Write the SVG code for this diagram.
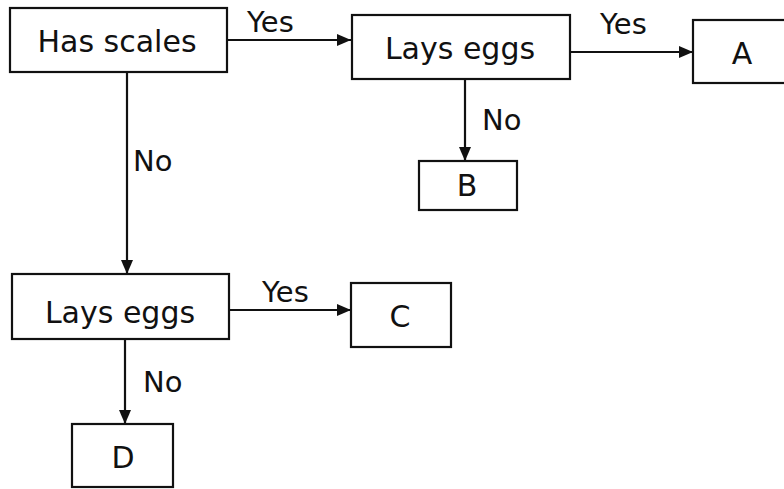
<svg xmlns="http://www.w3.org/2000/svg" width="784" height="489" viewBox="0 0 784 489">
  <style>
    .box { fill: #fff; stroke: #111; stroke-width: 2.2; }
    .lbl { font-family: "DejaVu Sans", "Liberation Sans", sans-serif; font-size: 30px; fill: #111; text-anchor: middle; }
    .edge { stroke: #111; stroke-width: 2.2; fill: none; marker-end: url(#arrow); }
    .elbl { font-family: "DejaVu Sans", "Liberation Sans", sans-serif; font-size: 29px; fill: #111; }
  </style>
  <defs>
    <marker id="arrow" viewBox="0 0 14 12" refX="14" refY="6" markerWidth="14" markerHeight="12" markerUnits="userSpaceOnUse" orient="auto">
      <path d="M0,0 L14,6 L0,12 Z" fill="#111"/>
    </marker>
  </defs>
  <rect width="784" height="489" fill="#fff"/>

  <g id="connectors">
    <line class="edge" x1="227" y1="40" x2="351" y2="40"/>
    <line class="edge" x1="570" y1="52" x2="693" y2="52"/>
    <line class="edge" x1="465" y1="79" x2="465" y2="161"/>
    <line class="edge" x1="127" y1="72" x2="127" y2="274"/>
    <line class="edge" x1="229" y1="310" x2="351" y2="310"/>
    <line class="edge" x1="125" y1="339" x2="125" y2="424"/>
    <text class="elbl" x="247" y="32">Yes</text>
    <text class="elbl" x="600" y="34">Yes</text>
    <text class="elbl" x="482" y="130">No</text>
    <text class="elbl" x="133" y="171">No</text>
    <text class="elbl" x="262" y="302">Yes</text>
    <text class="elbl" x="143" y="392">No</text>
  </g>

  <g id="has-scales">
    <rect class="box" x="10" y="8" width="217" height="64"/>
    <text class="lbl" x="117" y="52">Has scales</text>
  </g>
  <g id="lays-eggs-1">
    <rect class="box" x="352" y="15" width="218" height="64"/>
    <text class="lbl" x="460" y="59">Lays eggs</text>
  </g>
  <g id="node-a">
    <rect class="box" x="693" y="20" width="100" height="63"/>
    <text class="lbl" x="742" y="64">A</text>
  </g>
  <g id="node-b">
    <rect class="box" x="419" y="161" width="98" height="49"/>
    <text class="lbl" x="467" y="196">B</text>
  </g>
  <g id="lays-eggs-2">
    <rect class="box" x="12" y="274" width="217" height="65"/>
    <text class="lbl" x="120" y="323">Lays eggs</text>
  </g>
  <g id="node-c">
    <rect class="box" x="351" y="283" width="100" height="64"/>
    <text class="lbl" x="400" y="327">C</text>
  </g>
  <g id="node-d">
    <rect class="box" x="72" y="424" width="101" height="63"/>
    <text class="lbl" x="123" y="468">D</text>
  </g>
</svg>
